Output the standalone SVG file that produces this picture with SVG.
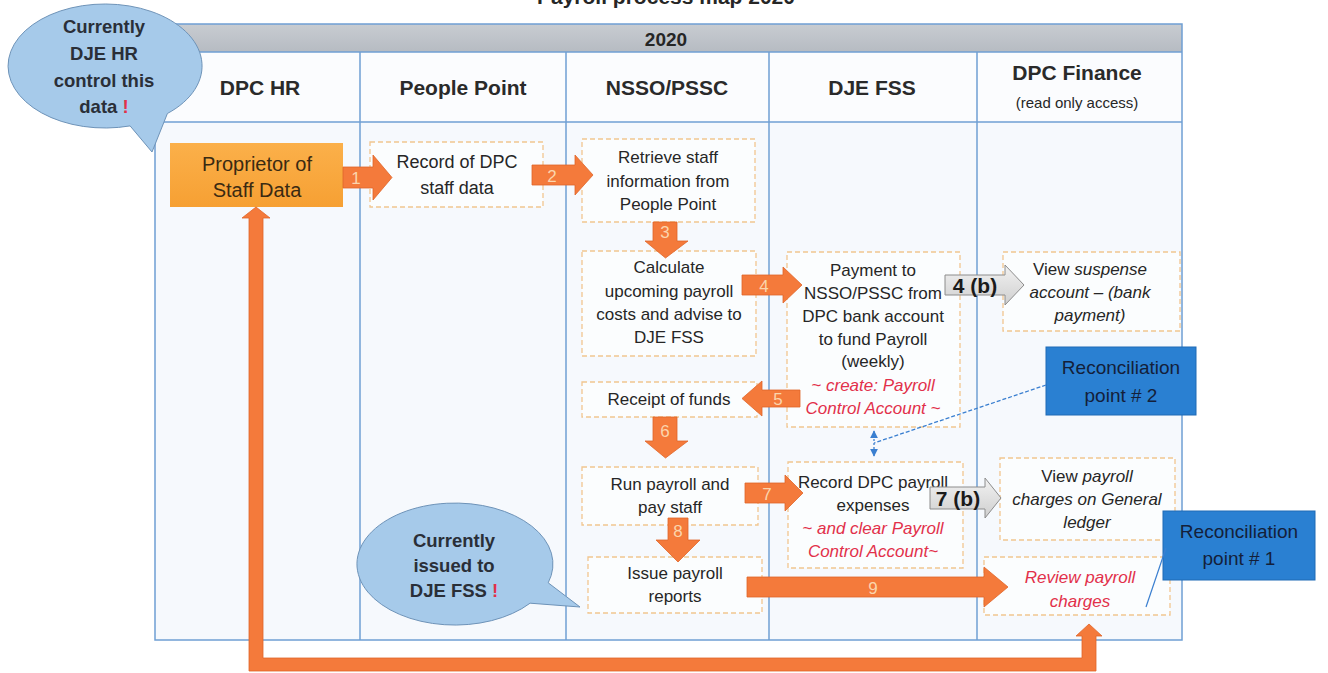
<svg xmlns="http://www.w3.org/2000/svg" width="1328" height="673" viewBox="0 0 1328 673">
<defs>
<linearGradient id="band" x1="0" y1="0" x2="0" y2="1"><stop offset="0" stop-color="#c8ccd1"/><stop offset="1" stop-color="#b6bbc2"/></linearGradient>
<linearGradient id="gray" x1="0" y1="0" x2="0" y2="1"><stop offset="0" stop-color="#f2f2f2"/><stop offset="1" stop-color="#cfcfcf"/></linearGradient>
<linearGradient id="prop" x1="0" y1="0" x2="0" y2="1"><stop offset="0" stop-color="#fbb04a"/><stop offset="1" stop-color="#f6a033"/></linearGradient>
<marker id="bh" viewBox="0 0 10 10" refX="9" refY="5" markerWidth="6" markerHeight="6" orient="auto-start-reverse"><path d="M0,0 L10,5 L0,10 Z" fill="#3a7fd0"/></marker>
</defs>
<style>
text{font-family:"Liberation Sans",Arial,sans-serif;fill:#262626;text-anchor:middle}
.hdr{font-size:21px;font-weight:bold;fill:#2a2a2a}
.sub{font-size:15px}
.t{font-size:17px}
.big{font-size:20px}
.cb{font-size:18.5px;font-weight:bold;fill:#2a2f38}
.red{fill:#e2304a;font-style:italic}
.it{font-style:italic}
.box{fill:#ffffff;fill-opacity:0.6;stroke:#f1c690;stroke-width:1.3;stroke-dasharray:5 3}
.lane{stroke:#6f9fd3;stroke-width:1.5;fill:none}
.oa{fill:#f47a3b;stroke:#e0662a;stroke-width:0.8}
.num{font-size:17px;fill:#fbd5ad}
.ga{fill:url(#gray);stroke:#8c8c8c;stroke-width:1}
.gb{font-size:21px;font-weight:bold;fill:#1a1a1a}
.call{fill:#a6caea;stroke:#6e93b8;stroke-width:1}
.rec{fill:#2a80d2;stroke:#1f6ab5;stroke-width:1}
.rt{font-size:19px;fill:#14203a}
.ex{fill:#e2304a}
</style>
<rect width="1328" height="673" fill="#ffffff"/>
<text x="666" y="4" style="font-size:21px;font-weight:bold">Payroll process map 2020</text>

<g id="table">
<rect x="155" y="24" width="1027" height="616" fill="#f6f9fd"/>
<rect x="155" y="24" width="1027" height="28" fill="url(#band)"/>
<rect x="155" y="52" width="1027" height="70" fill="#fbfcfe"/>
<rect x="155" y="24" width="1027" height="616" class="lane"/>
<line x1="155" y1="52" x2="1182" y2="52" class="lane" stroke-width="2"/>
<line x1="155" y1="122" x2="1182" y2="122" class="lane"/>
<line x1="360" y1="52" x2="360" y2="640" class="lane"/>
<line x1="566" y1="52" x2="566" y2="640" class="lane"/>
<line x1="769" y1="52" x2="769" y2="640" class="lane"/>
<line x1="977" y1="52" x2="977" y2="640" class="lane"/>
<text x="666" y="46" style="font-size:19px;font-weight:bold">2020</text>
<text x="260" y="95" class="hdr">DPC HR</text>
<text x="463" y="95" class="hdr">People Point</text>
<text x="667" y="95" class="hdr">NSSO/PSSC</text>
<text x="872" y="95" class="hdr">DJE FSS</text>
<text x="1077" y="80" class="hdr">DPC Finance</text>
<text x="1077" y="108" class="sub">(read only access)</text>
</g>

<g id="callout-hr">
<path class="call" d="M 130.1,125.9 A 97,62 0 1 1 167.4,113.5 L 152,152 Z"/>
<text x="104" y="33" class="cb">Currently</text>
<text x="104" y="60" class="cb">DJE HR</text>
<text x="104" y="87" class="cb">control this</text>
<text x="104" y="113" class="cb">data <tspan class="ex">!</tspan></text>
</g>

<g id="n-proprietor">
<rect x="170" y="143" width="173" height="64" fill="url(#prop)"/>
<text x="257" y="171" class="big" style="fill:#3a2a12">Proprietor of</text>
<text x="257" y="197" class="big" style="fill:#3a2a12">Staff Data</text>
</g>
<g id="n-record">
<rect x="370" y="142" width="173" height="65" class="box"/>
<text x="457" y="168" style="font-size:18px">Record of DPC</text>
<text x="457" y="194" style="font-size:18px">staff data</text>
</g>
<g id="n-retrieve">
<rect x="582" y="139" width="173" height="83" class="box"/>
<text x="668" y="163" class="t">Retrieve staff</text>
<text x="668" y="187" class="t">information from</text>
<text x="668" y="210" class="t">People Point</text>
</g>
<g id="n-calculate">
<rect x="582" y="251" width="174" height="105" class="box"/>
<text x="669" y="273" class="t">Calculate</text>
<text x="669" y="297" class="t">upcoming payroll</text>
<text x="669" y="320" class="t">costs and advise to</text>
<text x="669" y="343" class="t">DJE FSS</text>
</g>
<g id="n-payment">
<rect x="787" y="252" width="173" height="175" class="box"/>
<text x="873" y="276" class="t">Payment to</text>
<text x="873" y="299" class="t">NSSO/PSSC from</text>
<text x="873" y="322" class="t">DPC bank account</text>
<text x="873" y="345" class="t">to fund Payroll</text>
<text x="873" y="367" class="t">(weekly)</text>
<text x="873" y="391" class="t red">~ create: Payroll</text>
<text x="873" y="414" class="t red">Control Account ~</text>
</g>
<g id="n-suspense">
<rect x="1003" y="252" width="177" height="79" class="box"/>
<text x="1090" y="275" class="t">View <tspan class="it">suspense</tspan></text>
<text x="1090" y="298" class="t it">account – (bank</text>
<text x="1090" y="321" class="t it">payment)</text>
</g>
<g id="n-receipt">
<rect x="582" y="382" width="175" height="35" class="box"/>
<text x="669" y="405" class="t">Receipt of funds</text>
</g>
<g id="n-run">
<rect x="582" y="467" width="176" height="58" class="box"/>
<text x="670" y="490" class="t">Run payroll and</text>
<text x="670" y="513" class="t">pay staff</text>
</g>
<g id="n-issue">
<rect x="588" y="557" width="174" height="56" class="box"/>
<text x="675" y="579" class="t">Issue payroll</text>
<text x="675" y="602" class="t">reports</text>
</g>
<g id="n-recorddpc">
<rect x="788" y="462" width="175" height="106" class="box"/>
<text x="873" y="488" class="t">Record DPC payroll</text>
<text x="873" y="511" class="t">expenses</text>
<text x="873" y="534" class="t red">~ and clear Payroll</text>
<text x="873" y="557" class="t red">Control Account~</text>
</g>
<g id="n-viewpayroll">
<rect x="1000" y="458" width="175" height="82" class="box"/>
<text x="1087" y="482" class="t">View <tspan class="it">payroll</tspan></text>
<text x="1087" y="505" class="t it">charges on General</text>
<text x="1087" y="528" class="t it">ledger</text>
</g>
<g id="n-review">
<rect x="984" y="557" width="186" height="58" class="box"/>
<text x="1080" y="583" class="t red">Review payroll</text>
<text x="1080" y="607" class="t red">charges</text>
</g>

<g id="callout-fss">
<path class="call" d="M 530.1,603.2 A 98,61 0 1 1 548.2,582.8 L 580,607 Z"/>
<text x="454" y="547" class="cb">Currently</text>
<text x="454" y="572" class="cb">issued to</text>
<text x="454" y="597" class="cb">DJE FSS <tspan class="ex">!</tspan></text>
</g>

<g id="n-recon2">
<rect x="1046" y="347" width="150" height="68" class="rec"/>
<text x="1121" y="374" class="rt">Reconciliation</text>
<text x="1121" y="402" class="rt">point # 2</text>
</g>
<g id="n-recon1">
<rect x="1163" y="511" width="152" height="69" class="rec"/>
<text x="1239" y="538" class="rt">Reconciliation</text>
<text x="1239" y="565" class="rt">point # 1</text>
</g>

<g id="connectors">
<polygon class="oa" points="343,167 373,167 373,155 392,177.5 373,200 373,188 343,188"/>
<text x="356" y="184" class="num">1</text>
<polygon class="oa" points="532,165 575,165 575,155 593,175 575,195 575,185 532,185"/>
<text x="552" y="182" class="num">2</text>
<polygon class="oa" points="653,222 677,222 677,241 688,241 665.5,258 645,241 653,241"/>
<text x="665" y="238" class="num">3</text>
<polygon class="oa" points="742,275 783,275 783,267 802,285 783,303 783,295 742,295"/>
<text x="764" y="292" class="num">4</text>
<polygon class="oa" points="800,390 762,390 762,381 742,398.5 762,416 762,407 800,407"/>
<text x="778" y="405" class="num">5</text>
<polygon class="oa" points="653,417 677,417 677,441 688,441 665.5,458 645,441 653,441"/>
<text x="665" y="437" class="num">6</text>
<polygon class="oa" points="745,483 785,483 785,475 803,493 785,511 785,503 745,503"/>
<text x="767" y="500" class="num">7</text>
<polygon class="oa" points="668,518 688,518 688,540 700,540 678,562 656,540 668,540"/>
<text x="678" y="537" class="num">8</text>
<polygon class="oa" points="747,577 984,577 984,567 1008,587 984,607 984,597 747,597"/>
<text x="873" y="594" class="num">9</text>
<polygon class="oa" points="249,218 242,218 256,207 270,218 263,218 263,658 1082,658 1082,636 1076,636 1089,624 1102,636 1096,636 1096,671 249,671"/>
<polygon class="ga" points="945,275 1005,275 1005,265 1024,285 1005,305 1005,295 945,295"/>
<text x="975" y="293" class="gb">4 (b)</text>
<polygon class="ga" points="930,487 985,487 985,478 1001,498 985,518 985,509 930,509"/>
<text x="958" y="506" class="gb">7 (b)</text>
<line x1="1046" y1="385" x2="874" y2="443" stroke="#3a7fd0" stroke-width="1.3" stroke-dasharray="4 2"/>
<line x1="874" y1="431" x2="874" y2="456" stroke="#3a7fd0" stroke-width="1.3" stroke-dasharray="2 2" marker-start="url(#bh)" marker-end="url(#bh)"/>
<line x1="1166" y1="548" x2="1146" y2="607" stroke="#3a7fd0" stroke-width="1.2"/>
</g>
</svg>
